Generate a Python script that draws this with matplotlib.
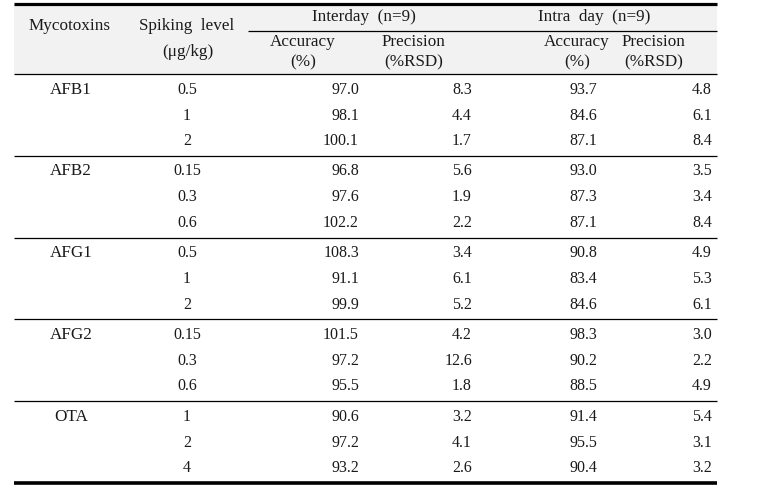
#!/usr/bin/env python3
"""Accuracy / precision table for mycotoxins (interday and intra day, n=9)."""

import matplotlib

matplotlib.use("Agg")
import matplotlib.pyplot as plt
from matplotlib.patches import Rectangle

# Table data
mycotoxins = ["AFB1", "AFB2", "AFG1", "AFG2", "OTA"]
spiking_levels = [
    ["0.5", "1", "2"],
    ["0.15", "0.3", "0.6"],
    ["0.5", "1", "2"],
    ["0.15", "0.3", "0.6"],
    ["1", "2", "4"],
]
inter_accuracy = [97.0, 98.1, 100.1, 96.8, 97.6, 102.2, 108.3, 91.1, 99.9,
                  101.5, 97.2, 95.5, 90.6, 97.2, 93.2]
inter_precision = [8.3, 4.4, 1.7, 5.6, 1.9, 2.2, 3.4, 6.1, 5.2,
                   4.2, 12.6, 1.8, 3.2, 4.1, 2.6]
intra_accuracy = [93.7, 84.6, 87.1, 93.0, 87.3, 87.1, 90.8, 83.4, 84.6,
                  98.3, 90.2, 88.5, 91.4, 95.5, 90.4]
intra_precision = [4.8, 6.1, 8.4, 3.5, 3.4, 8.4, 4.9, 5.3, 6.1,
                   3.0, 2.2, 4.9, 5.4, 3.1, 3.2]

# Layout (pixel coordinates, y downward)
W, H = 758, 496
LEFT, RIGHT = 14, 717
TOP, HEAD_MID, HEAD_BOT = 4, 31, 74
GROUP_H = 81.8
ROW_OFFS = [15.5, 41.5, 67.0]
value_right = [359, 472, 597, 712]
sub_centers = [303, 414, 577, 654]
TXT = "#1a1a1a"
FS = 11.5
FS_HEAD = 12.3

plt.rcParams["font.family"] = ["Liberation Serif", "DejaVu Serif"]

fig = plt.figure(figsize=(W / 100, H / 100), dpi=100)
ax = fig.add_axes([0, 0, 1, 1])
ax.set_xlim(0, W)
ax.set_ylim(H, 0)
ax.axis("off")

# header background
ax.add_patch(Rectangle((LEFT, TOP), RIGHT - LEFT, HEAD_BOT - TOP,
                       facecolor="#f2f2f2", edgecolor="none", zorder=0))

# rules
ax.hlines(TOP, LEFT, RIGHT, color="black", lw=2.3)
ax.hlines(HEAD_MID, 248, RIGHT, color="black", lw=0.9)
group_lines = [HEAD_BOT + GROUP_H * i for i in range(len(mycotoxins))]
ax.hlines(group_lines, LEFT, RIGHT, color="black", lw=0.9)
ax.hlines(HEAD_BOT + GROUP_H * len(mycotoxins), LEFT, RIGHT, color="black", lw=2.6)

# header text
hk = dict(color=TXT, fontsize=FS_HEAD, va="center")
ax.text(70, 26, "Mycotoxins", ha="center", **hk)
ax.text(187, 26, "Spiking  level", ha="center", **hk)
ax.text(188, 52, "(\u03bcg/kg)", ha="center", **hk)
ax.text(364, 17, "Interday  (n=9)", ha="center", **hk)
ax.text(594, 17, "Intra  day  (n=9)", ha="center", **hk)
for cx, top_lbl, bot_lbl in zip(sub_centers,
                                ["Accuracy", "Precision", "Accuracy", "Precision"],
                                ["(%)", "(%RSD)", "(%)", "(%RSD)"]):
    ax.text(cx, 42, top_lbl, ha="center", **hk)
    ax.text(cx, 62, bot_lbl, ha="center", **hk)

# body
kw = dict(color=TXT, fontsize=FS, va="center")
columns = [inter_accuracy, inter_precision, intra_accuracy, intra_precision]
for g, name in enumerate(mycotoxins):
    y0 = HEAD_BOT + GROUP_H * g
    ax.text(71, y0 + ROW_OFFS[0], name, ha="center", **hk)
    for r, off in enumerate(ROW_OFFS):
        y = y0 + off
        idx = g * 3 + r
        ax.text(187, y, spiking_levels[g][r], ha="center", **kw)
        for xr, col in zip(value_right, columns):
            ax.text(xr, y, f"{col[idx]:.1f}", ha="right", **kw)

fig.savefig("out.png", dpi=100)
plt.close(fig)
